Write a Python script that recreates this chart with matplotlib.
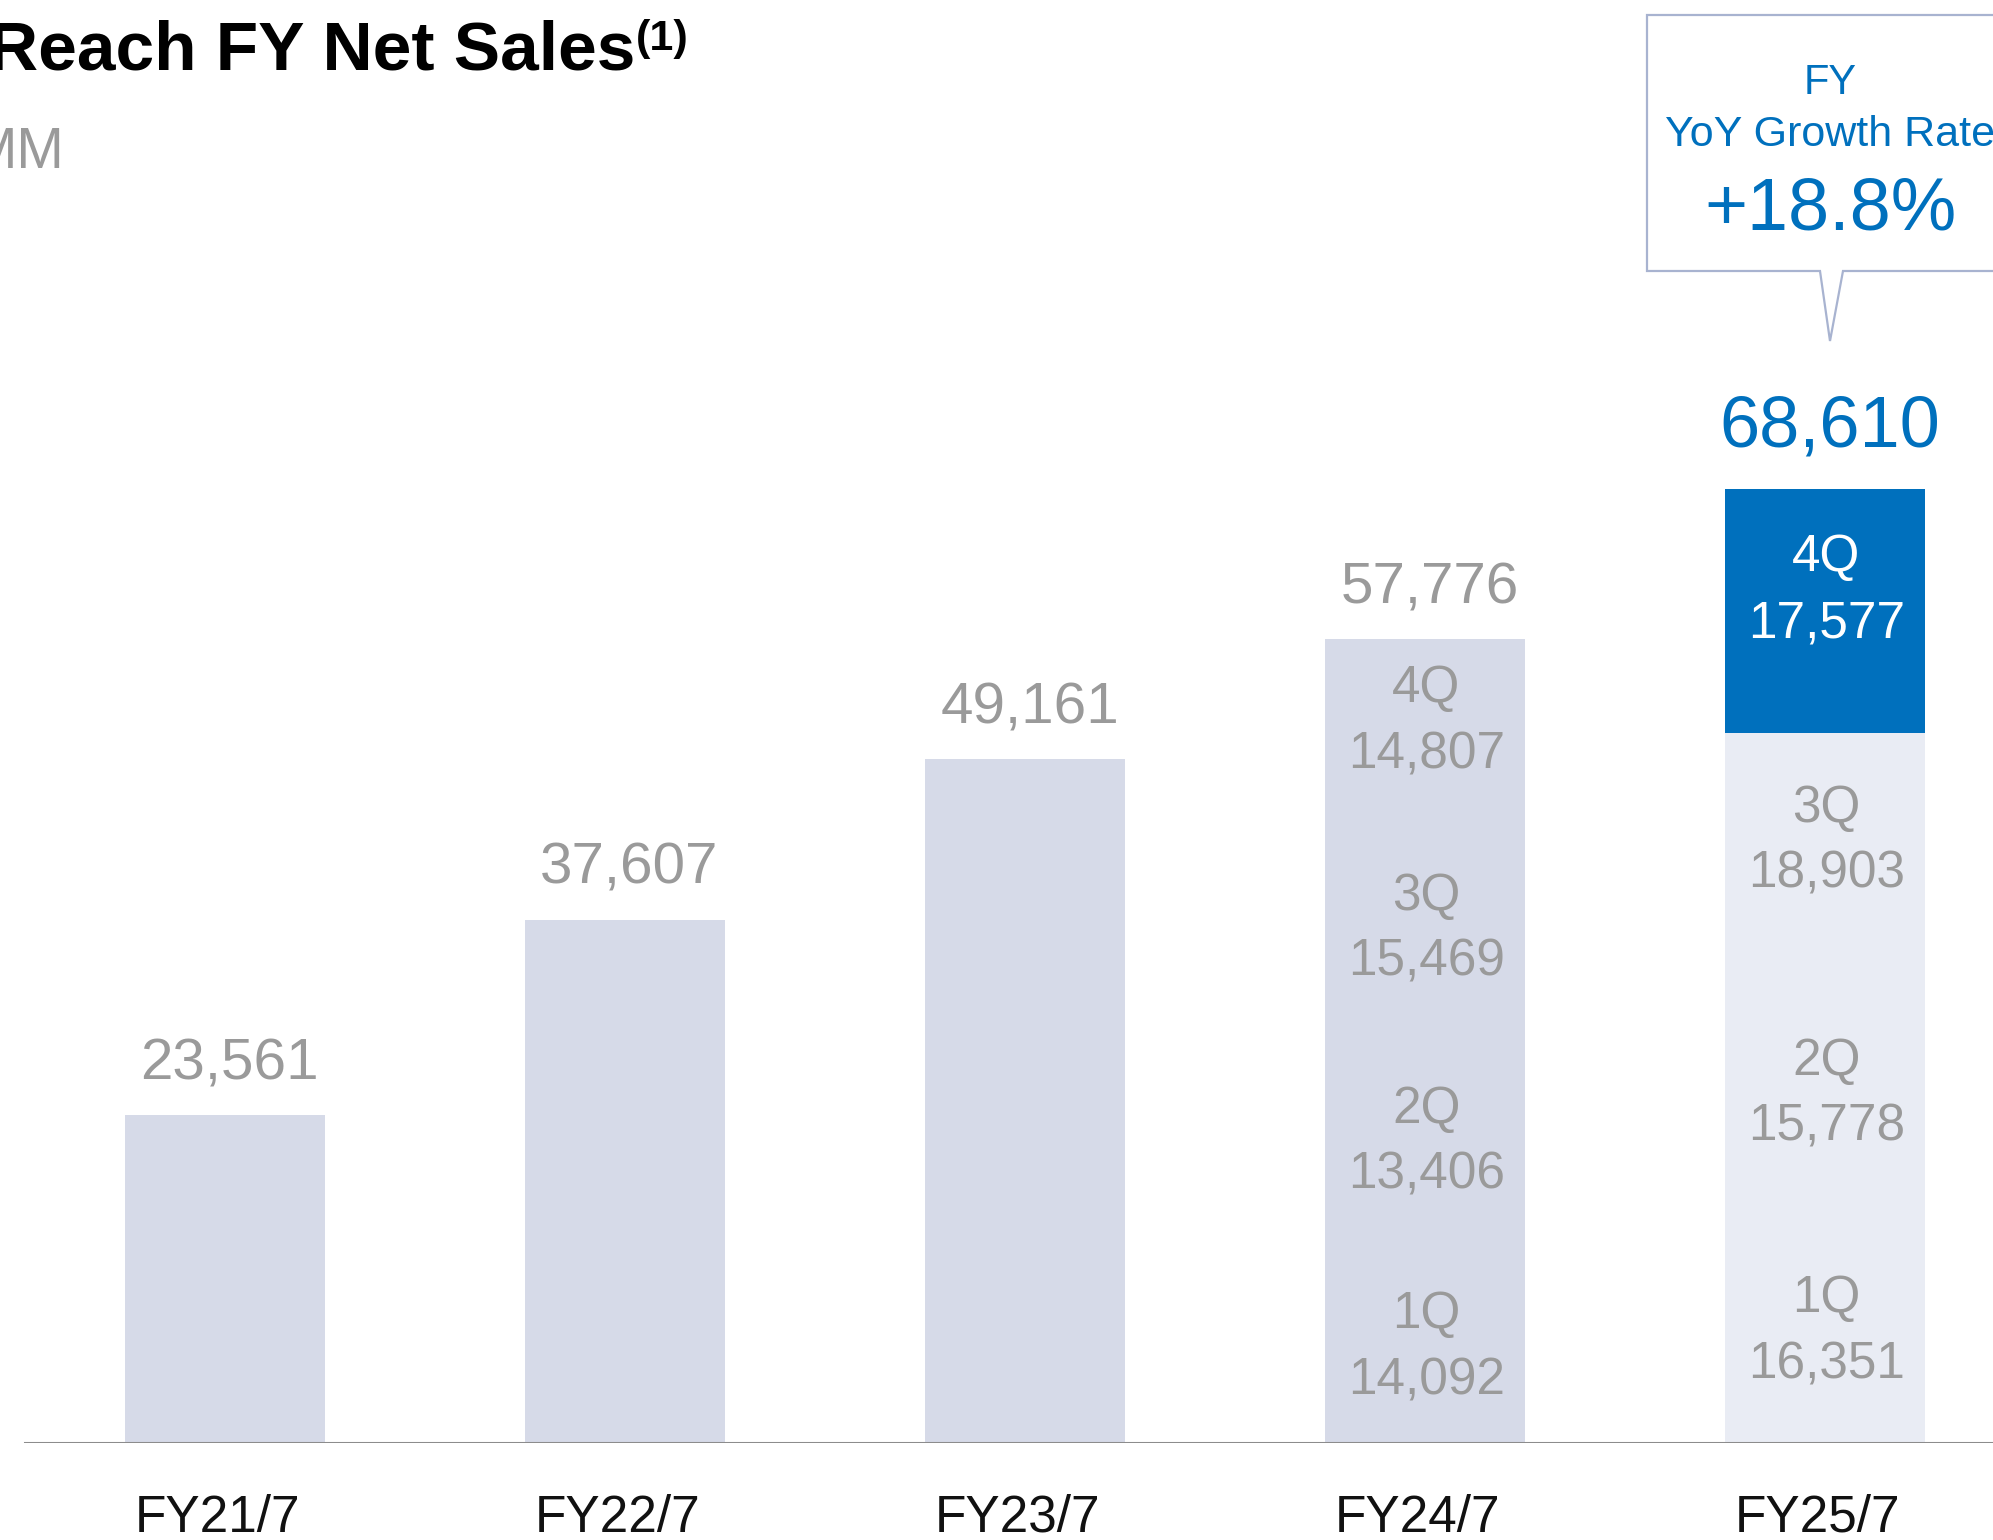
import matplotlib
matplotlib.use("Agg")
import matplotlib.pyplot as plt
from matplotlib.patches import Polygon

# ---------------- data ----------------
years = ["FY21/7", "FY22/7", "FY23/7", "FY24/7", "FY25/7"]
totals = [23561, 37607, 49161, 57776, 68610]
quarter_names = ["1Q", "2Q", "3Q", "4Q"]
q_fy24 = [14092, 13406, 15469, 14807]
q_fy25 = [16351, 15778, 18903, 17577]
title = "Reach FY Net Sales"
title_note = "(1)"
unit = "MM"
callout_lines = ["FY", "YoY Growth Rate"]
growth = "+18.8%"

# ---------------- style ----------------
W, H, DPI = 1993, 1540, 100
FONT = ["Liberation Sans", "DejaVu Sans"]
plt.rcParams["font.family"] = FONT
BAR = "#D6DAE8"
BAR_LIGHT = "#E9ECF4"
BLUE = "#0070BD"
GRAY = "#9A9A9A"
EDGE = "#A8B3D0"
PX = 72.0 / DPI  # points per pixel
Q_SHIFT = [2, 16, 28, 25]  # upward label shift per quarter, pixels

fig = plt.figure(figsize=(W / DPI, H / DPI), dpi=DPI)
base_px = 1443
ax = fig.add_axes([0, (H - base_px) / H, 1, base_px / H])
units_per_px = 71.9
ax.set_xlim(-224.5 / 400, (W - 224.5) / 400)
ax.set_ylim(0, base_px * units_per_px)
ax.axis("off")

x = list(range(len(years)))
bw = 0.5

# plain bars FY21-FY23
for i in range(3):
    ax.bar(x[i], totals[i], width=bw, color=BAR, linewidth=0)


def quarter_stack(xi, values, colors, text_colors):
    bottom = 0
    for k, (qn, v) in enumerate(zip(quarter_names, values)):
        ax.bar(xi, v, width=bw, bottom=bottom, color=colors[k], linewidth=0)
        mid = bottom + v / 2
        s = Q_SHIFT[k]
        ax.annotate(qn, (xi, mid), xytext=(2 * PX, (s + 33 - 18) * PX), textcoords="offset points",
                    ha="center", va="baseline", fontsize=37, color=text_colors[k])
        ax.annotate(f"{v:,}", (xi, mid), xytext=(2 * PX, (s - 33 - 18) * PX), textcoords="offset points",
                    ha="center", va="baseline", fontsize=37, color=text_colors[k])
        bottom += v


quarter_stack(x[3], q_fy24, [BAR] * 4, [GRAY] * 4)
quarter_stack(x[4], q_fy25, [BAR_LIGHT] * 3 + [BLUE], [GRAY] * 3 + ["white"])

# totals
for i in range(4):
    ax.annotate(f"{totals[i]:,}", (x[i], totals[i]), xytext=(5 * PX, 36 * PX), textcoords="offset points",
                ha="center", va="baseline", fontsize=42, color=GRAY)
ax.annotate(f"{totals[4]:,}", (x[4], totals[4]), xytext=(5 * PX, 42 * PX), textcoords="offset points",
            ha="center", va="baseline", fontsize=52, color=BLUE)

# category labels
for i, lab in enumerate(years):
    ax.annotate(lab, (x[i], 0), xytext=(-7 * PX, -89 * PX), textcoords="offset points",
                ha="center", va="baseline", fontsize=37, color="#111111", annotation_clip=False)

# baseline
ax.axhline(0, xmin=25 / W, xmax=1, color="#8C8C8C", linewidth=2.2)


def fp(px_x, px_y):
    return (px_x / W, 1 - px_y / H)


# title
t = fig.text(*fp(-12, 70), title, fontsize=50, fontweight="bold", color="black", va="baseline", ha="left")
fig.canvas.draw()
bb = t.get_window_extent()
fig.text(bb.x1 / W + 1 / W, 1 - 50 / H, title_note, fontsize=31, fontweight="bold", color="black",
         va="baseline", ha="left")
fig.text(*fp(64, 168), unit, fontsize=41, color=GRAY, va="baseline", ha="right")

# callout
cx = 1830
pts = [(1820, 271), (1647, 271), (1647, 15), (W + 20, 15), (W + 20, 271), (1843, 271), (cx, 341)]
poly = Polygon([fp(a, b) for a, b in pts], closed=True, transform=fig.transFigure,
               facecolor="white", edgecolor=EDGE, linewidth=1.6, joinstyle="miter")
fig.add_artist(poly)
fig.text(*fp(cx, 94), callout_lines[0], fontsize=30, color=BLUE, ha="center", va="baseline")
fig.text(*fp(cx, 146), callout_lines[1], fontsize=31, color=BLUE, ha="center", va="baseline")
fig.text(*fp(cx, 229), growth, fontsize=53, color=BLUE, ha="center", va="baseline")

fig.savefig("out.png", dpi=DPI)
